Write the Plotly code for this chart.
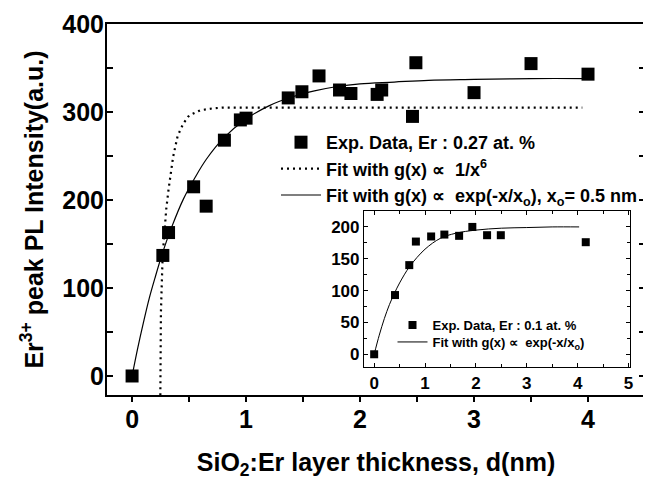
import plotly.graph_objects as go

# ---------------- data ----------------
# Main plot: Er 0.27 at.%
exp_x = [0.0, 0.27, 0.32, 0.54, 0.65, 0.81, 0.95, 1.0, 1.37, 1.49, 1.64, 1.82, 1.92, 2.15, 2.19, 2.46, 2.49, 3.0, 3.5, 4.0]
exp_y = [0, 137, 163, 215, 193, 268, 291, 293, 316, 323, 341, 325, 321, 320, 325, 295, 356, 322, 355, 343]

# dotted fit g(x) ~ 1/x^6
fit6_x = [0.248, 0.253, 0.268, 0.30, 0.32, 0.34, 0.36, 0.40, 0.45, 0.50, 0.60, 0.70, 0.80, 1.0, 2.0, 3.0, 3.95]
fit6_y = [-22, 72, 136, 190, 212, 232, 249, 273, 287, 296, 302, 304, 305, 305, 305, 305, 305]

# solid fit g(x) ~ exp(-x/x0), x0 = 0.5 nm
fitexp_x = [0, 0.05, 0.1, 0.15, 0.2, 0.27, 0.35, 0.45, 0.55, 0.65, 0.8, 1.0, 1.2, 1.4, 1.6, 1.8, 2.0, 2.3, 2.6, 3.0, 3.5, 4.0]
fitexp_y = [0, 32, 61, 88, 111, 141, 170, 201, 225, 246, 270, 292, 307, 317, 324, 329, 332, 334, 336, 337, 338, 338]

# Inset: Er 0.1 at.%
in_x = [0.0, 0.41, 0.69, 0.82, 1.12, 1.38, 1.67, 1.93, 2.22, 2.49, 4.16]
in_y = [0, 93, 140, 177, 185, 188, 186, 200, 187, 187, 176]

in_fit_x = [0, 0.1, 0.2, 0.3, 0.4, 0.5, 0.7, 1.0, 1.3, 1.6, 2.0, 2.5, 3.0, 3.5, 4.03]
in_fit_y = [0, 30, 56, 78, 96, 112, 138, 165, 182, 190, 195, 198, 199, 200, 200]

# ---------------- figure ----------------
# The page body has an 8px margin, so the figure is laid out 8px smaller
# and all positions below are given in page pixels.
OFF = 8
W, H = 651 - OFF, 480 - OFF
PL, PR, PT, PB = 107, 645, 24, 395          # plot area in page pixels
ML, MT = PL - OFF, PT - OFF
MR, MB = W - (PR - OFF), H - (PB - OFF)
pw, ph = PR - PL, PB - PT

def px_x(p):
    return (p - PL) / pw

def px_y(p):
    return (PB - p) / ph

FONT = "Arial, Liberation Sans, sans-serif"

fig = go.Figure()

fig.add_trace(go.Scatter(
    x=exp_x, y=exp_y, mode="markers",
    marker=dict(symbol="square", size=13, color="black"),
    name="Exp. Data, Er : 0.27 at. %", legend="legend"))
fig.add_trace(go.Scatter(
    x=fit6_x, y=fit6_y, mode="lines",
    line=dict(color="black", width=2.2, dash="2px,4px"),
    name="Fit with g(x) \u221d  1/x<sup>6</sup>", legend="legend"))
fig.add_trace(go.Scatter(
    x=fitexp_x, y=fitexp_y, mode="lines", line_shape="spline",
    line=dict(color="black", width=1.2),
    name="Fit with g(x) \u221d  exp(-x/x<sub>o</sub>), x<sub>o</sub>= 0.5 nm", legend="legend"))

fig.add_trace(go.Scatter(
    x=in_x, y=in_y, mode="markers", xaxis="x2", yaxis="y2",
    marker=dict(symbol="square", size=8, color="black"),
    name="Exp. Data, Er : 0.1 at. %", legend="legend2"))
fig.add_trace(go.Scatter(
    x=in_fit_x, y=in_fit_y, mode="lines", line_shape="spline", xaxis="x2", yaxis="y2",
    line=dict(color="black", width=1),
    name="Fit with g(x) \u221d  exp(-x/x<sub>o</sub>)", legend="legend3"))

# inset region
ix0, ix1 = px_x(364), px_x(630)
iy0, iy1 = px_y(367), px_y(211)

fig.update_layout(
    width=W, height=H,
    margin=dict(l=ML, r=MR, t=MT, b=MB, autoexpand=False),
    paper_bgcolor="white", plot_bgcolor="white",
    font=dict(family=FONT, color="black", size=16, weight="bold"),
    showlegend=True,
    xaxis=dict(
        range=[-0.22, 4.5], domain=[0, 1], automargin=False,
        tickmode="array", tickvals=[0, 1, 2, 3, 4],
        ticks="outside", ticklen=5, tickwidth=1.5, tickcolor="black",
        minor=dict(tickvals=[0.5, 1.5, 2.5, 3.5], ticks="outside", ticklen=5, tickwidth=1.5, tickcolor="black"),
        showline=True, linecolor="black", linewidth=2, mirror=True,
        showgrid=False, zeroline=False,
        tickfont=dict(size=25, weight="bold"), ticklabelstandoff=-4,
        title=dict(text="SiO<sub>2</sub>:Er layer thickness, d(nm)", font=dict(size=25, weight="bold"), standoff=26),
    ),
    xaxis3=dict(
        overlaying="x", matches="x", side="top", anchor="y", automargin=False,
        range=[-0.22, 4.5],
        tickmode="array", tickvals=[0, 1, 2, 3, 4], showticklabels=False,
        ticks="inside", ticklen=6, tickwidth=1.5, tickcolor="black",
        minor=dict(tickvals=[0.5, 1.5, 2.5, 3.5], ticks="inside", ticklen=6, tickwidth=1.5, tickcolor="black"),
        showline=False, showgrid=False, zeroline=False,
    ),
    yaxis=dict(
        range=[-21.6, 400], domain=[0, 1], automargin=False,
        tickmode="array", tickvals=[0, 100, 200, 300, 400],
        ticks="inside", ticklen=6, tickwidth=1.5, tickcolor="black",
        minor=dict(tickvals=[50, 150, 250, 350], ticks="inside", ticklen=6, tickwidth=1.5, tickcolor="black"),
        showline=True, linecolor="black", linewidth=2, mirror="ticks",
        showgrid=False, zeroline=False,
        tickfont=dict(size=25, weight="bold"), ticklabelstandoff=-4,
        title=dict(text="Er<sup>3+</sup> peak PL Intensity(a.u.)", font=dict(size=25, weight="bold"), standoff=12),
    ),
    xaxis2=dict(
        domain=[ix0, ix1], anchor="y2", range=[-0.2, 5.03], automargin=False,
        tickmode="array", tickvals=[0, 1, 2, 3, 4, 5],
        ticks="inside", ticklen=4, tickwidth=1, tickcolor="black",
        minor=dict(tickvals=[0.5, 1.5, 2.5, 3.5, 4.5], ticks="inside", ticklen=3, tickwidth=1, tickcolor="black"),
        showline=True, linecolor="black", linewidth=1.2, mirror="ticks",
        showgrid=False, zeroline=False,
        tickfont=dict(size=17, weight="bold"),
    ),
    yaxis2=dict(
        domain=[iy0, iy1], anchor="x2", range=[-20, 225], automargin=False,
        tickmode="array", tickvals=[0, 50, 100, 150, 200],
        ticks="inside", ticklen=4, tickwidth=1, tickcolor="black",
        minor=dict(tickvals=[25, 75, 125, 175], ticks="inside", ticklen=3, tickwidth=1, tickcolor="black"),
        showline=True, linecolor="black", linewidth=1.2, mirror="ticks",
        showgrid=False, zeroline=False,
        tickfont=dict(size=17, weight="bold"),
    ),
    legend=dict(
        x=px_x(276), y=px_y(124), xanchor="left", yanchor="top",
        bgcolor="rgba(0,0,0,0)", borderwidth=0,
        font=dict(size=18, weight="bold"), itemwidth=40, tracegroupgap=0,
    ),
    legend2=dict(
        x=px_x(392.5), y=px_y(310), xanchor="left", yanchor="top",
        bgcolor="rgba(0,0,0,0)", borderwidth=0,
        font=dict(size=13, weight="bold"), itemwidth=30,
    ),
    legend3=dict(
        x=px_x(392.5), y=px_y(327), xanchor="left", yanchor="top",
        bgcolor="rgba(0,0,0,0)", borderwidth=0,
        font=dict(size=13, weight="bold"), itemwidth=30,
    ),
)

fig.write_html("out.html")
